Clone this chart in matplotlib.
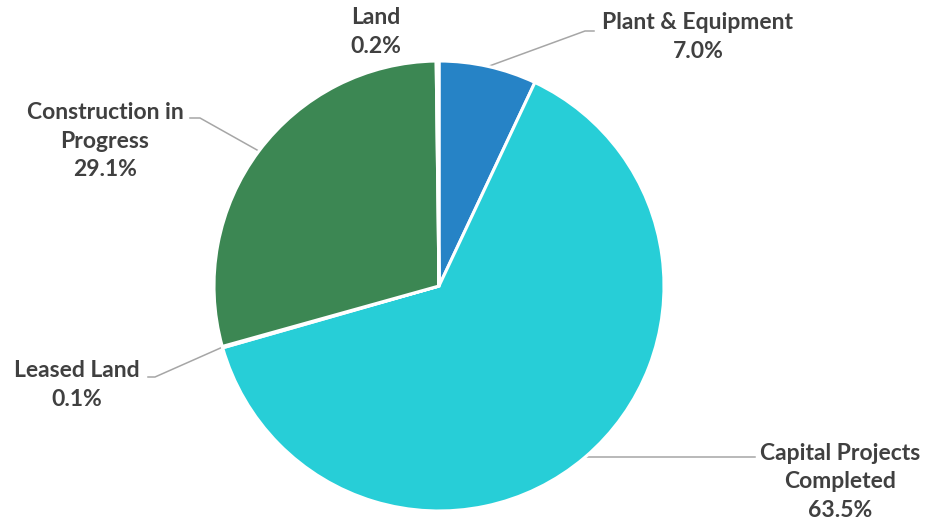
import numpy as np
import matplotlib
matplotlib.use("Agg")
import matplotlib.pyplot as plt

# Slices, clockwise from 12 o'clock
labels = ["Plant & Equipment", "Capital Projects\nCompleted", "Leased Land",
          "Construction in\nProgress", "Land"]
shares = [7.0, 63.5, 0.1, 29.1, 0.2]
colors = ["#2683C6", "#27CED7", "#42BA97", "#3C8753", "#1CADE4"]

W, H = 927, 527
CX, CY, R = 439, 286, 225          # pie centre / radius in pixels
TEXT = "#404040"
LEAD = "#A6A6A6"

plt.rcParams["font.family"] = ["Lato", "DejaVu Sans"]

fig = plt.figure(figsize=(W / 100, H / 100), dpi=100)
ax = fig.add_axes([(CX - R) / W, (H - CY - R) / H, 2 * R / W, 2 * R / H])

wedges, _ = ax.pie(shares, colors=colors, startangle=90, counterclock=False,
                   radius=1, wedgeprops=dict(edgecolor="white", linewidth=2.2))
ax.set_xlim(-1, 1)
ax.set_ylim(-1, 1)
ax.axis("off")


def px(x, y):
    """Pixel position -> data coords of the pie axes."""
    return (x - CX) / R, (CY - y) / R


def mid_edge(w):
    a = np.deg2rad((w.theta1 + w.theta2) / 2)
    return np.cos(a), np.sin(a)


# label text centre (px), leader elbow & text-side end (px) or None
layout = [
    ((698, 37), [(585, 31), (594, 31)]),
    ((840, 482), [(755, 459)]),
    ((77, 385), [(155, 377), (148, 377)]),
    ((105, 141), [(200, 118), (190, 118)]),
    ((376, 32), None),
]

for w, name, val, (pos, lead) in zip(wedges, labels, shares, layout):
    tx, ty = px(*pos)
    ax.text(tx, ty, f"{name}\n{val:.1f}%", ha="center", va="center",
            fontsize=16.5, fontweight="bold", color=TEXT, linespacing=1.45,
            clip_on=False)
    if lead:
        ex, ey = mid_edge(w)
        pts = [(ex, ey)] + [px(*p) for p in lead]
        if len(lead) == 1:
            pts = [(ex, ey), (px(*lead[0])[0], ey)]
        xs, ys = zip(*pts)
        ax.plot(xs, ys, color=LEAD, lw=1.1, clip_on=False, zorder=0)

fig.savefig("out.png", dpi=100, facecolor="white")
